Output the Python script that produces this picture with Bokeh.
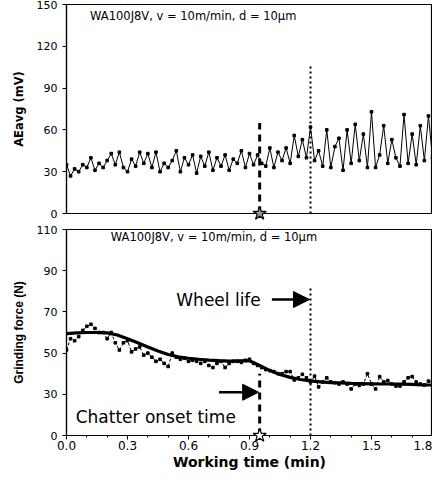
from bokeh.plotting import figure
from bokeh.layouts import column
from bokeh.models import Range1d, FixedTicker, Arrow, NormalHead, Label, PrintfTickFormatter
from bokeh.embed import file_html
from bokeh.resources import INLINE

# ---------------- data ----------------
dt = 0.02
ae_values = [35, 27, 32, 30, 35, 33, 40, 31, 36, 33,
             38, 43, 35, 44, 33, 30, 39, 34, 44, 36,
             43, 33, 44, 30, 36, 33, 38, 45, 30, 40,
             35, 42, 29, 41, 34, 44, 31, 40, 34, 42,
             31, 39, 36, 45, 33, 43, 35, 42, 36, 34,
             47, 33, 44, 38, 47, 36, 56, 41, 53, 40,
             62, 38, 45, 34, 60, 33, 48, 54, 31, 60,
             36, 64, 38, 57, 33, 73, 33, 42, 63, 36,
             53, 40, 34, 71, 36, 57, 35, 63, 38, 70, 40]
ae_time = [round(i * dt, 3) for i in range(len(ae_values))]

force_values = [51.5, 57, 56, 58, 61, 63, 64, 62, 60, 60,
                57, 60, 55, 51.5, 55, 56, 50.6, 52, 53, 49,
                50, 48, 46, 47, 45, 43.5, 50, 48, 47, 47.5,
                46, 46.5, 46, 45, 46, 44, 43, 45, 46, 43,
                45, 46, 46, 45.5, 46.5, 47, 45, 44, 43, 42,
                41.5, 41, 40, 40, 41, 41, 37, 38, 39.7, 38,
                36, 38.8, 33.6, 36, 38, 36, 35.6, 35, 36, 35,
                32.6, 35, 34.3, 35, 40, 35, 32.6, 38.6, 36, 36.7,
                35, 34, 34, 36, 38, 38.6, 36, 35, 34.5, 36.4, 36]
force_time = [round(i * dt, 3) for i in range(len(force_values))]

fit_step = 0.05
fit_values = [59.5, 59.8, 60, 60, 59.8, 58.8, 57, 55, 53, 51,
              49.3, 48.2, 47.5, 47, 46.6, 46.3, 46.1, 46.2, 46.3, 44,
              41.5, 39.6, 38.2, 37.2, 36.5, 36, 35.7, 35.5, 35.3, 35.2,
              35.1, 35, 35, 34.9, 34.8, 34.6, 34.5]
fit_time = [round(i * fit_step, 3) for i in range(len(fit_values))]

x_ticks = [0.0, 0.3, 0.6, 0.9, 1.2, 1.5, 1.8]
ae_ticks = [0, 30, 60, 90, 120, 150]
force_ticks = [10, 30, 50, 70, 90, 110]
force_tick_labels = ["0", "30", "50", "70", "90", "110"]

chatter_time = 0.95
wheel_life_time = 1.2
ae_chatter_top = 65
ae_wheel_top = 106
force_chatter_top = 40
force_wheel_top = 82
force_base = 10
wheel_arrow = (1.01, 76)
chatter_arrow = (0.75, 31)
condition_text = "WA100J8V, v = 10m/min, d = 10\u03bcm"

FONT = "DejaVu Sans"


def style(p):
    p.outline_line_color = "black"
    p.outline_line_width = 1.2
    p.xgrid.visible = False
    p.ygrid.visible = False
    for ax in p.axis:
        ax.axis_line_color = "black"
        ax.axis_line_width = 1.2
        ax.major_tick_line_color = "black"
        ax.minor_tick_line_color = "black"
        ax.major_tick_out = 4
        ax.major_tick_in = 0
        ax.minor_tick_out = 2
        ax.minor_tick_in = 0
        ax.major_label_text_font = FONT
        ax.major_label_text_color = "black"
        ax.axis_label_text_font = FONT
        ax.axis_label_text_font_style = "bold"
        ax.axis_label_text_color = "black"


# ---------------- top: AE ----------------
p1 = figure(width=432, height=221, output_backend="svg", toolbar_location=None,
            x_range=Range1d(0, 1.8), y_range=Range1d(0, 150),
            min_border_left=66, min_border_right=0, min_border_top=4, min_border_bottom=8)
style(p1)
p1.xaxis.visible = False
p1.yaxis.ticker = FixedTicker(ticks=ae_ticks, minor_ticks=[])
p1.yaxis.major_label_text_font_size = "11px"
p1.yaxis.axis_label = "AEavg (mV)"
p1.yaxis.axis_label_text_font_size = "11.5px"
p1.yaxis.axis_label_standoff = 8

p1.line(ae_time, ae_values, line_color="black", line_width=1)
p1.scatter(ae_time, ae_values, marker="square", size=2.6, color="black")
p1.segment(x0=[chatter_time], y0=[0], x1=[chatter_time], y1=[ae_chatter_top],
           line_color="black", line_width=3, line_dash="7 5")
p1.segment(x0=[wheel_life_time], y0=[0], x1=[wheel_life_time], y1=[ae_wheel_top],
           line_color="black", line_width=2, line_dash="2 3")
p1.scatter([chatter_time], [0], marker="star", size=14, fill_color="#999999",
           line_color="black", line_width=1.2, level="overlay")
p1.add_layout(Label(x=0.116, y=142, text=condition_text, text_font=FONT,
                    text_font_size="11.5px", text_baseline="middle", text_align="left",
                    text_color="black"))

# ---------------- bottom: force ----------------
p2 = figure(width=432, height=251, output_backend="svg", toolbar_location=None,
            x_range=Range1d(0, 1.8), y_range=Range1d(10, 110),
            min_border_left=66, min_border_right=0, min_border_top=8, min_border_bottom=0)
style(p2)
p2.xaxis.ticker = FixedTicker(ticks=x_ticks,
                              minor_ticks=[0.1, 0.2, 0.4, 0.5, 0.7, 0.8, 1.0, 1.1,
                                           1.3, 1.4, 1.6, 1.7])
p2.xaxis.formatter = PrintfTickFormatter(format="%.1f")
p2.xaxis.major_label_text_font_size = "12px"
p2.xaxis.major_label_standoff = 1
p2.xaxis.axis_label = "Working time (min)"
p2.xaxis.axis_label_text_font_size = "14px"
p2.xaxis.axis_label_standoff = 1
p2.yaxis.ticker = FixedTicker(ticks=force_ticks, minor_ticks=[])
p2.yaxis.major_label_overrides = {t: lab for t, lab in zip(force_ticks, force_tick_labels)}
p2.yaxis.major_label_text_font_size = "11px"
p2.yaxis.axis_label = "Grinding force (N)"
p2.yaxis.axis_label_text_font = "Liberation Sans"
p2.yaxis.axis_label_text_font_size = "12px"
p2.yaxis.axis_label_standoff = 8

p2.line(force_time, force_values, line_color="black", line_width=1, line_dash="3 2")
p2.scatter(force_time, force_values, marker="square", size=2.6, color="black")
p2.line(fit_time, fit_values, line_color="black", line_width=3.2)
p2.segment(x0=[chatter_time], y0=[force_base], x1=[chatter_time], y1=[force_chatter_top],
           line_color="black", line_width=3, line_dash="7 5")
p2.segment(x0=[wheel_life_time], y0=[force_base], x1=[wheel_life_time], y1=[force_wheel_top],
           line_color="black", line_width=2, line_dash="2 3")
p2.scatter([chatter_time], [force_base], marker="star", size=14, fill_color="white",
           line_color="black", line_width=1.2, level="overlay")
p2.add_layout(Label(x=0.218, y=106.5, text=condition_text, text_font=FONT,
                    text_font_size="11.5px", text_baseline="middle", text_align="left",
                    text_color="black"))
p2.add_layout(Arrow(end=NormalHead(size=16, fill_color="black", line_color="black"),
                    x_start=wheel_arrow[0], y_start=wheel_arrow[1],
                    x_end=wheel_life_time - 0.005, y_end=wheel_arrow[1],
                    line_color="black", line_width=2.5))
p2.add_layout(Arrow(end=NormalHead(size=16, fill_color="black", line_color="black"),
                    x_start=chatter_arrow[0], y_start=chatter_arrow[1],
                    x_end=chatter_time - 0.005, y_end=chatter_arrow[1],
                    line_color="black", line_width=2.5))
p2.add_layout(Label(x=0.54, y=76, text="Wheel life", text_font=FONT,
                    text_font_size="17px", text_baseline="middle", text_align="left",
                    text_color="black"))
p2.add_layout(Label(x=0.045, y=19, text="Chatter onset time", text_font=FONT,
                    text_font_size="17px", text_baseline="middle", text_align="left",
                    text_color="black"))

layout = column(p1, p2, spacing=0)
open("out.html", "w").write(file_html(layout, INLINE))
